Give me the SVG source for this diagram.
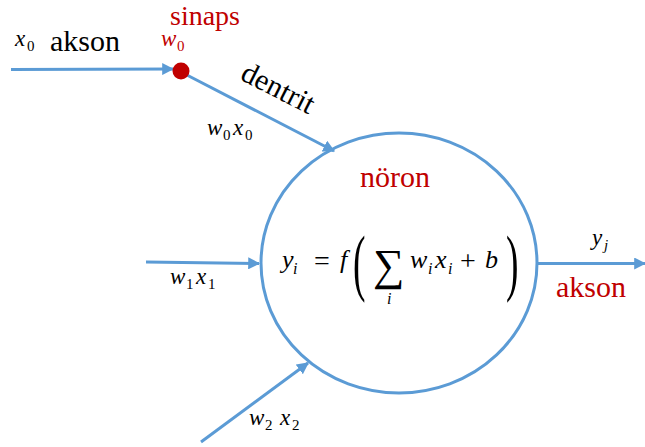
<svg xmlns="http://www.w3.org/2000/svg" width="645" height="447" viewBox="0 0 645 447">
<style>
.ln{stroke:#5b9bd5;stroke-width:3;fill:none}
.t{font-family:'Liberation Serif','Times New Roman',serif;font-size:30px;fill:#000}
.m{font-family:'Liberation Serif','Times New Roman',serif;font-style:italic;font-size:23px;fill:#000}
.s{font-style:normal;font-size:15px}
.si{font-style:italic;font-size:15px}
.f{font-size:26px}
.red{fill:#c00000}
</style>
<defs>
<marker id="ah" viewBox="0 0 10 10" refX="9" refY="5" markerWidth="4" markerHeight="4" orient="auto" markerUnits="strokeWidth">
<path d="M0,0 L10,5 L0,10 z" fill="#5b9bd5"/>
</marker>
</defs>
<rect width="645" height="447" fill="#fff"/>
<g id="connectors">
<line class="ln" x1="11" y1="69.5" x2="173" y2="69" marker-end="url(#ah)"/>
<line class="ln" x1="183" y1="73" x2="334" y2="151" marker-end="url(#ah)"/>
<line class="ln" x1="146" y1="262" x2="259" y2="263.5" marker-end="url(#ah)"/>
<line class="ln" x1="201" y1="442" x2="308" y2="363" marker-end="url(#ah)"/>
<line class="ln" x1="537" y1="263.5" x2="645" y2="263.5" marker-end="url(#ah)"/>
</g>
<g id="input0">
<text class="m" x="15" y="46">x<tspan class="s" x="27" y="51">0</tspan></text>
<text class="t" x="50" y="51">akson</text>
</g>
<g id="synapse">
<circle cx="181" cy="71" r="8.5" fill="#c00000"/>
<text class="t red" x="170" y="25" style="font-size:28px">sinaps</text>
<text class="m red" x="161" y="46">w<tspan class="s" x="177" y="51">0</tspan></text>
</g>
<g id="dendrite">
<text class="t" x="0" y="0" transform="translate(239,79) rotate(27)">dentrit</text>
<text class="m" x="207" y="135">w<tspan class="s" x="223" y="140">0</tspan><tspan x="233" y="135">x</tspan><tspan class="s" x="245" y="140">0</tspan></text>
</g>
<g id="input1">
<text class="m" x="170" y="284">w<tspan class="s" x="186" y="289">1</tspan><tspan x="196" y="284">x</tspan><tspan class="s" x="208" y="289">1</tspan></text>
</g>
<g id="input2">
<text class="m" x="249" y="425">w<tspan class="s" x="265" y="430">2</tspan><tspan x="280" y="425">x</tspan><tspan class="s" x="292" y="430">2</tspan></text>
</g>
<g id="neuron">
<ellipse class="ln" cx="399" cy="263" rx="138" ry="130"/>
<text class="t red" x="360" y="187">nöron</text>
<text class="m f" x="282" y="268">y<tspan class="si" x="293" y="274" style="font-size:16px">i</tspan></text>
<text class="t" x="314" y="270" style="font-size:28px">=</text>
<text class="m f" x="340" y="268">f</text>
<text class="t" x="0" y="0" style="font-size:50px" transform="translate(353,287) scale(0.75,1.5)">(</text>
<text class="t" x="373" y="280" style="font-size:44px">∑</text>
<text class="m" x="387" y="304" style="font-size:16px">i</text>
<text class="m f" x="410" y="268">w<tspan class="si" x="428" y="274" style="font-size:16px">i</tspan><tspan x="435" y="268">x</tspan><tspan class="si" x="448" y="274" style="font-size:16px">i</tspan></text>
<text class="t" x="460" y="270" style="font-size:28px">+</text>
<text class="m f" x="485" y="268">b</text>
<text class="t" x="0" y="0" style="font-size:50px" transform="translate(506,287) scale(0.75,1.5)">)</text>
</g>
<g id="output">
<text class="m" x="592" y="245">y<tspan class="si" x="604" y="250">j</tspan></text>
<text class="t red" x="556" y="297">akson</text>
</g>
</svg>
